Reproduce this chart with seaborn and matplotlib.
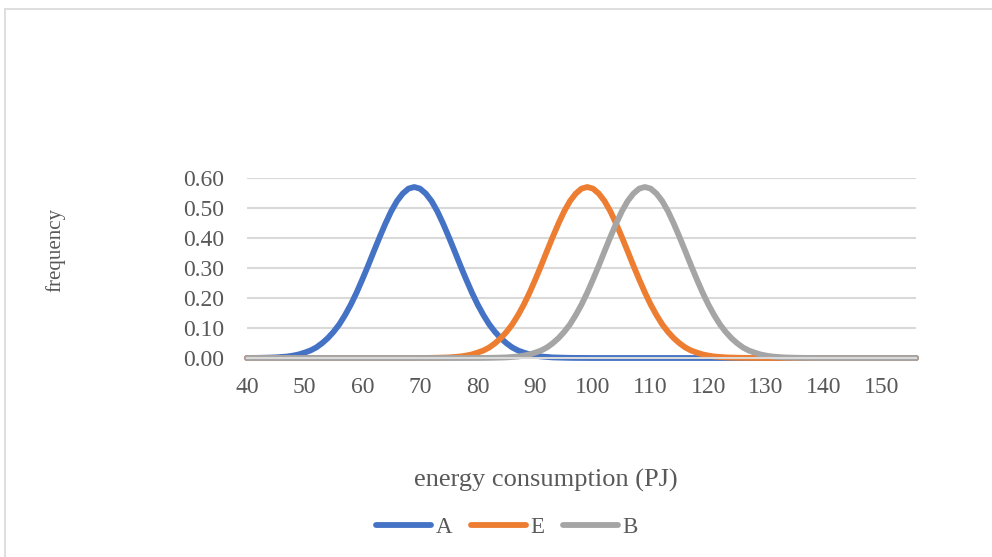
import numpy as np
import pandas as pd
import seaborn as sns
import matplotlib
matplotlib.use("Agg")
import matplotlib.pyplot as plt
from matplotlib.lines import Line2D

# ---- data ----
energy = list(range(40, 157))  # energy consumption (PJ), 40..156

freq_A = [
    0.0002, 0.0003, 0.0005, 0.0009, 0.0014, 0.002, 0.0035, 0.005, 0.008, 0.012,   # 40-49
    0.018, 0.025, 0.035, 0.049, 0.066, 0.087, 0.112, 0.143, 0.178, 0.218,          # 50-59
    0.262, 0.308, 0.356, 0.403, 0.448, 0.489, 0.523, 0.548, 0.5645, 0.570,         # 60-69
    0.5645, 0.548, 0.523, 0.489, 0.448, 0.403, 0.356, 0.308, 0.262, 0.218,         # 70-79
    0.178, 0.143, 0.112, 0.087, 0.066, 0.049, 0.035, 0.025, 0.018, 0.012,          # 80-89
    0.008, 0.005, 0.0035, 0.002, 0.0014, 0.0009, 0.0005, 0.0003, 0.0002, 0.0001,   # 90-99
    0, 0, 0, 0, 0, 0, 0, 0, 0, 0,                                                  # 100-109
    0, 0, 0, 0, 0, 0, 0, 0, 0, 0,                                                  # 110-119
    0, 0, 0, 0, 0, 0, 0, 0, 0, 0,                                                  # 120-129
    0, 0, 0, 0, 0, 0, 0, 0, 0, 0,                                                  # 130-139
    0, 0, 0, 0, 0, 0, 0, 0, 0, 0,                                                  # 140-149
    0, 0, 0, 0, 0, 0, 0,                                                           # 150-156
]

freq_E = [
    0, 0, 0, 0, 0, 0, 0, 0, 0, 0,                                                  # 40-49
    0, 0, 0, 0, 0, 0, 0, 0, 0, 0,                                                  # 50-59
    0, 0, 0, 0, 0, 0, 0, 0, 0, 0.0001,                                             # 60-69
    0.0002, 0.0003, 0.0005, 0.0009, 0.0014, 0.002, 0.0035, 0.005, 0.008, 0.012,   # 70-79
    0.018, 0.025, 0.035, 0.049, 0.066, 0.087, 0.112, 0.143, 0.178, 0.218,          # 80-89
    0.262, 0.308, 0.356, 0.403, 0.448, 0.489, 0.523, 0.548, 0.5645, 0.570,         # 90-99
    0.5645, 0.548, 0.523, 0.489, 0.448, 0.403, 0.356, 0.308, 0.262, 0.218,         # 100-109
    0.178, 0.143, 0.112, 0.087, 0.066, 0.049, 0.035, 0.025, 0.018, 0.012,          # 110-119
    0.008, 0.005, 0.0035, 0.002, 0.0014, 0.0009, 0.0005, 0.0003, 0.0002, 0.0001,   # 120-129
    0, 0, 0, 0, 0, 0, 0, 0, 0, 0,                                                  # 130-139
    0, 0, 0, 0, 0, 0, 0, 0, 0, 0,                                                  # 140-149
    0, 0, 0, 0, 0, 0, 0,                                                           # 150-156
]

freq_B = [
    0, 0, 0, 0, 0, 0, 0, 0, 0, 0,                                                  # 40-49
    0, 0, 0, 0, 0, 0, 0, 0, 0, 0,                                                  # 50-59
    0, 0, 0, 0, 0, 0, 0, 0, 0, 0,                                                  # 60-69
    0, 0, 0, 0, 0, 0, 0, 0, 0, 0.0001,                                             # 70-79
    0.0002, 0.0003, 0.0005, 0.0009, 0.0014, 0.002, 0.0035, 0.005, 0.008, 0.012,   # 80-89
    0.018, 0.025, 0.035, 0.049, 0.066, 0.087, 0.112, 0.143, 0.178, 0.218,          # 90-99
    0.262, 0.308, 0.356, 0.403, 0.448, 0.489, 0.523, 0.548, 0.5645, 0.570,         # 100-109
    0.5645, 0.548, 0.523, 0.489, 0.448, 0.403, 0.356, 0.308, 0.262, 0.218,         # 110-119
    0.178, 0.143, 0.112, 0.087, 0.066, 0.049, 0.035, 0.025, 0.018, 0.012,          # 120-129
    0.008, 0.005, 0.0035, 0.002, 0.0014, 0.0009, 0.0005, 0.0003, 0.0002, 0.0001,   # 130-139
    0, 0, 0, 0, 0, 0, 0, 0, 0, 0,                                                  # 140-149
    0, 0, 0, 0, 0, 0, 0,                                                           # 150-156
]

series_names = ["A", "E", "B"]
series_colors = ["#4472C4", "#ED7D31", "#A5A5A5"]
x_ticks = [40, 50, 60, 70, 80, 90, 100, 110, 120, 130, 140, 150]
y_ticks = [0.0, 0.1, 0.2, 0.3, 0.4, 0.5, 0.6]

df = pd.concat([
    pd.DataFrame({"energy": energy, "frequency": vals, "series": name})
    for name, vals in zip(series_names, [freq_A, freq_E, freq_B])
], ignore_index=True)

# ---- style ----
sns.set_theme(style="white")
plt.rcParams["font.family"] = ["Liberation Serif", "DejaVu Serif"]
text_color = "#595959"
grid_color = "#D9D9D9"

fig = plt.figure(figsize=(9.92, 5.57), dpi=100)
ax = fig.add_axes([247 / 992, 1 - 358 / 557, (916 - 247) / 992, (358 - 178) / 557])

sns.lineplot(data=df, x="energy", y="frequency", hue="series",
             hue_order=series_names, palette=series_colors,
             linewidth=4.2, ax=ax, legend=False, sort=False)
for ln in ax.get_lines():
    ln.set_clip_on(False)
    ln.set_solid_capstyle("round")
    ln.set_solid_joinstyle("round")

ax.set_xlim(40, 156)
ax.set_ylim(0, 0.6)
ax.set_xticks(x_ticks)
ax.set_yticks(y_ticks)
ax.set_yticklabels([f"{v:.2f}" for v in y_ticks])
ax.yaxis.grid(True, color=grid_color, linewidth=1.5)
ax.xaxis.grid(False)
ax.set_axisbelow(True)
for side in ["top", "right", "left"]:
    ax.spines[side].set_visible(False)
ax.spines["bottom"].set_color(grid_color)
ax.spines["bottom"].set_linewidth(1.5)
ax.tick_params(axis="both", length=0, labelsize=17, colors=text_color)
ax.tick_params(axis="x", pad=14)
ax.tick_params(axis="y", pad=16.5)
ax.set_xlabel("")
ax.set_ylabel("")

fig.text(546 / 992, 1 - 480 / 557, "energy consumption (PJ)", ha="center", va="center",
         fontsize=19, color=text_color)
fig.text(55 / 992, 1 - 250 / 557, "frequency", ha="center", va="center",
         rotation=90, fontsize=15, color=text_color)

handles = [Line2D([0], [0], color=c, lw=4.2, solid_capstyle="round") for c in series_colors]
leg = fig.legend(handles, series_names, loc="center", bbox_to_anchor=(507 / 992, 1 - 527 / 557),
                 ncol=3, frameon=False, fontsize=16.5, handlelength=2.4, handletextpad=0.2,
                 columnspacing=0.8)
for t in leg.get_texts():
    t.set_color(text_color)

# chart-area border (top and left visible)
fig.add_artist(Line2D([5 / 992, 1.0], [1 - 9 / 557, 1 - 9 / 557], color=grid_color, lw=1.2,
                      transform=fig.transFigure))
fig.add_artist(Line2D([5 / 992, 5 / 992], [0.0, 1 - 9 / 557], color=grid_color, lw=1.2,
                      transform=fig.transFigure))

fig.savefig("out.png", dpi=100, facecolor="white")
